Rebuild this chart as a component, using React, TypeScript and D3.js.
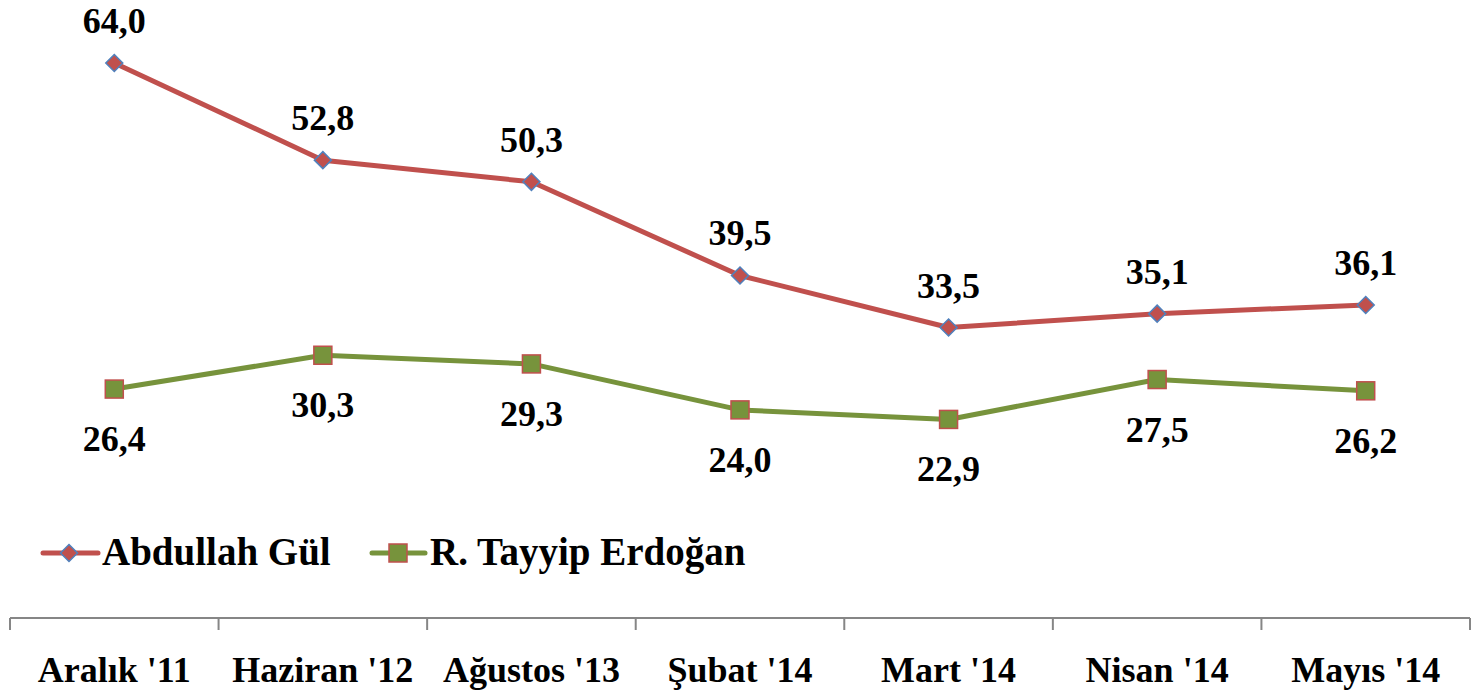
import * as d3 from 'd3';

const categories = ["Aralık '11", "Haziran '12", "Ağustos '13", "Şubat '14", "Mart '14", "Nisan '14", "Mayıs '14"];
const gulValues = [64.0, 52.8, 50.3, 39.5, 33.5, 35.1, 36.1];
const erdoganValues = [26.4, 30.3, 29.3, 24.0, 22.9, 27.5, 26.2];
const seriesNames = ['Abdullah Gül', 'R. Tayyip Erdoğan'];

const RED = '#C0504D';
const GREEN = '#77933C';
const BLUE = '#4F81BD';
const FONT = '"Liberation Serif", "Times New Roman", serif';

export default function App() {
  const width = 1472;
  const height = 697;

  const x = d3.scaleBand<string>().domain(categories).range([10, 1470]);
  const cx = (c: string) => (x(c) ?? 0) + x.bandwidth() / 2;
  const y = d3.scaleLinear().domain([0, 70]).range([618, 11]);

  const line = d3.line<number>()
    .x((_, i) => cx(categories[i]))
    .y(d => y(d));

  const fmt = (v: number) => v.toFixed(1).replace('.', ',');
  const ticks = d3.range(categories.length + 1).map(i => 10 + i * x.step());

  const diamond = (px: number, py: number, r: number) =>
    `M${px},${py - r}L${px + r},${py}L${px},${py + r}L${px - r},${py}Z`;

  return (
    <svg width={width} height={height} style={{ position: 'absolute', left: 0, top: 0, display: 'block', background: '#fff' }}>
      {/* axis */}
      <line x1={10} x2={1470} y1={618} y2={618} stroke="#868686" strokeWidth={2} />
      {ticks.map((t, i) => (
        <line key={i} x1={t} x2={t} y1={618} y2={630} stroke="#868686" strokeWidth={2} />
      ))}
      {categories.map(c => (
        <text key={c} x={cx(c)} y={682} textAnchor="middle" fontFamily={FONT} fontWeight="bold" fontSize={36} fill="#000">{c}</text>
      ))}

      {/* lines */}
      <path d={line(gulValues) ?? ''} fill="none" stroke={RED} strokeWidth={5} strokeLinejoin="round" />
      <path d={line(erdoganValues) ?? ''} fill="none" stroke={GREEN} strokeWidth={5} strokeLinejoin="round" />

      {/* markers */}
      {gulValues.map((v, i) => (
        <path key={'g' + i} d={diamond(cx(categories[i]), y(v), 8.5)} fill={RED} stroke={BLUE} strokeWidth={1.5} />
      ))}
      {erdoganValues.map((v, i) => (
        <rect key={'e' + i} x={cx(categories[i]) - 9} y={y(v) - 9} width={18} height={18} fill={GREEN} stroke={RED} strokeWidth={1.5} />
      ))}

      {/* labels */}
      {gulValues.map((v, i) => (
        <text key={'gl' + i} x={cx(categories[i])} y={y(v) - 30} textAnchor="middle" fontFamily={FONT} fontWeight="bold" fontSize={36} fill="#000">{fmt(v)}</text>
      ))}
      {erdoganValues.map((v, i) => (
        <text key={'el' + i} x={cx(categories[i])} y={y(v) + 62} textAnchor="middle" fontFamily={FONT} fontWeight="bold" fontSize={36} fill="#000">{fmt(v)}</text>
      ))}

      {/* legend */}
      <g>
        <line x1={43} x2={98} y1={553} y2={553} stroke={RED} strokeWidth={5} strokeLinecap="round" />
        <path d={diamond(69, 553, 8.5)} fill={RED} stroke={BLUE} strokeWidth={1.5} />
        <text x={102} y={565} fontFamily={FONT} fontWeight="bold" fontSize={39} fill="#000">{seriesNames[0]}</text>
        <line x1={372} x2={425} y1={553} y2={553} stroke={GREEN} strokeWidth={5} strokeLinecap="round" />
        <rect x={389} y={544} width={18} height={18} fill={GREEN} stroke={RED} strokeWidth={1.5} />
        <text x={430} y={565} fontFamily={FONT} fontWeight="bold" fontSize={39} fill="#000">{seriesNames[1]}</text>
      </g>
    </svg>
  );
}
